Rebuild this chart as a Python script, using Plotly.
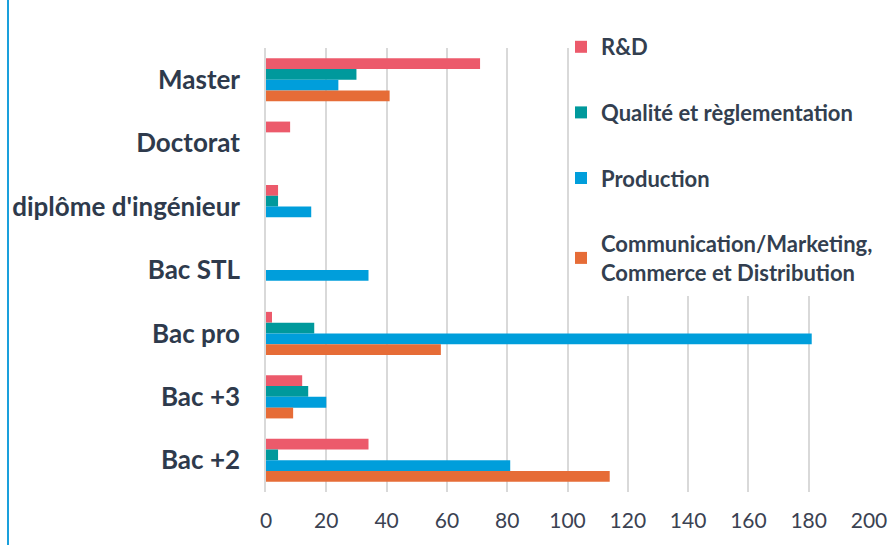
import plotly.graph_objects as go

categories = ["Master", "Doctorat", "diplôme d'ingénieur", "Bac STL", "Bac pro", "Bac +3", "Bac +2"]
series_names = ["R&D", "Qualité et règlementation", "Production",
                "Communication/Marketing,<br>Commerce et Distribution"]
rd = [71, 8, 4, 0, 2, 12, 34]
qualite = [30, 0, 4, 0, 16, 14, 4]
production = [24, 0, 15, 34, 181, 20, 81]
communication = [41, 0, 0, 0, 58, 9, 114]
x_ticks = [0, 20, 40, 60, 80, 100, 120, 140, 160, 180, 200]

colors = ["#EC5A6B", "#00999C", "#009EDB", "#E66C37"]
values = [rd, qualite, production, communication]

fig = go.Figure()
for i, (name, vals) in enumerate(zip(series_names, values)):
    fig.add_trace(go.Bar(
        y=categories, x=vals, name=name, orientation="h",
        marker=dict(color=colors[i], line=dict(width=0)),
        legendgroup=f"g{i}",
    ))

PL, PR, PT, PB = 266, 869, 48, 492
fig.update_layout(
    width=895, height=545,
    margin=dict(l=PL, r=895 - PR, t=PT, b=545 - PB, autoexpand=False),
    paper_bgcolor="white", plot_bgcolor="white",
    barmode="group", bargap=0.32, bargroupgap=0,
    font=dict(family="Lato", color="#333F50"),
    showlegend=True,
    legend=dict(
        x=(561 - PL) / (PR - PL), xanchor="left",
        y=(PB - 26) / (PB - PT), yanchor="top",
        bgcolor="rgba(0,0,0,0)",
        font=dict(family="Lato", size=22, color="#333F50", weight="bold"),
        tracegroupgap=34, itemwidth=30,
    ),
    xaxis=dict(
        range=[0, 200], tickvals=x_ticks, showgrid=True,
        gridcolor="#D9D9D9", gridwidth=1.5, zeroline=False,
        tickfont=dict(family="Lato", size=21, color="#3B4252"),
        ticks="", ticklabelstandoff=14, fixedrange=True, automargin=False,
    ),
    yaxis=dict(
        autorange="reversed", showgrid=False, zeroline=False,
        tickfont=dict(family="Lato", size=26, color="#2E3A4C", weight="bold"),
        ticklabelstandoff=19, showline=True, linecolor="#D9D9D9", linewidth=1.5,
        automargin=False,
    ),
)

# white panel behind the legend, hiding the gridlines there
fig.add_shape(type="rect", xref="x", yref="paper",
              x0=100.8, x1=215, y0=(PB - 296) / (PB - PT), y1=1.2,
              fillcolor="white", line=dict(width=0), layer="above")

fig.add_shape(type="line", xref="paper", yref="paper",
              x0=(8 - PL) / (PR - PL), x1=(8 - PL) / (PR - PL), y0=-0.3, y1=1.3,
              line=dict(color="#1AA0DC", width=2))

fig.write_html("out.html", config={"displayModeBar": False},
               post_script="document.body.style.margin='0';")
